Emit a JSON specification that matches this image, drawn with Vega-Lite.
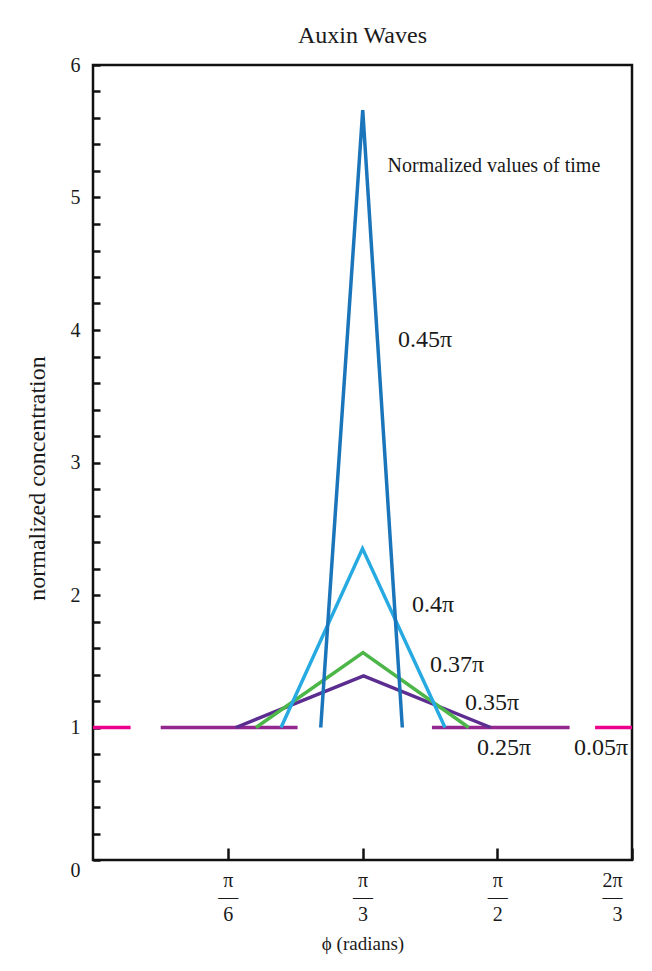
{
  "$schema": "https://vega.github.io/schema/vega-lite/v6.json",
  "width": 539,
  "height": 795,
  "autosize": {"type": "none"},
  "padding": {"left": 93, "top": 65, "right": 20, "bottom": 111},
  "background": "white",
  "title": {"text": "Auxin Waves", "font": "Liberation Serif", "fontSize": 24, "fontWeight": "normal", "color": "#1a1a1a", "anchor": "middle", "offset": 7},
  "config": {
    "view": {"stroke": "#111", "strokeWidth": 2.5},
    "font": "Liberation Serif"
  },
  "datasets": {
    "lines": [
      {"series": "0.05π", "seg": "p1", "x": 0, "y": 1},
      {"series": "0.05π", "seg": "p1", "x": 0.146, "y": 1},
      {"series": "0.05π", "seg": "p2", "x": 1.951, "y": 1},
      {"series": "0.05π", "seg": "p2", "x": 2.0944, "y": 1},
      {"series": "0.25π", "seg": "f1", "x": 0.263, "y": 1},
      {"series": "0.25π", "seg": "f1", "x": 0.795, "y": 1},
      {"series": "0.25π", "seg": "f2", "x": 1.317, "y": 1},
      {"series": "0.25π", "seg": "f2", "x": 1.852, "y": 1},
      {"series": "0.35π", "seg": "t", "x": 0.555, "y": 1},
      {"series": "0.35π", "seg": "t", "x": 1.0512, "y": 1.39},
      {"series": "0.35π", "seg": "t", "x": 1.5455, "y": 1},
      {"series": "0.37π", "seg": "t", "x": 0.6334, "y": 1},
      {"series": "0.37π", "seg": "t", "x": 1.0492, "y": 1.565},
      {"series": "0.37π", "seg": "t", "x": 1.46, "y": 1},
      {"series": "0.4π", "seg": "t", "x": 0.7306, "y": 1},
      {"series": "0.4π", "seg": "t", "x": 1.0473, "y": 2.35},
      {"series": "0.4π", "seg": "t", "x": 1.3679, "y": 1},
      {"series": "0.45π", "seg": "t", "x": 0.8849, "y": 1},
      {"series": "0.45π", "seg": "t", "x": 1.0481, "y": 5.66},
      {"series": "0.45π", "seg": "t", "x": 1.2019, "y": 1}
    ],
    "labels": [
      {"text": "Normalized values of time", "x": 1.558, "y": 5.238, "size": 20},
      {"text": "0.45π", "x": 1.29, "y": 3.925, "size": 24},
      {"text": "0.4π", "x": 1.321, "y": 1.925, "size": 24},
      {"text": "0.37π", "x": 1.4145, "y": 1.472, "size": 24},
      {"text": "0.35π", "x": 1.5505, "y": 1.185, "size": 24},
      {"text": "0.25π", "x": 1.597, "y": 0.845, "size": 24},
      {"text": "0.05π", "x": 1.974, "y": 0.845, "size": 24}
    ]
  },
  "layer": [
    {
      "data": {"name": "lines"},
      "mark": {"type": "line", "strokeWidth": 3.5, "clip": true},
      "encoding": {
        "x": {
          "field": "x", "type": "quantitative",
          "scale": {"domain": [0, 2.0944], "nice": false, "zero": false},
          "axis": {
            "values": [0.5236, 1.0472, 1.5708, 2.0944],
            "tickCount": 10,
            "labelExpr": "datum.value < 0.6 ? ['π','—','6'] : datum.value < 1.1 ? ['π','—','3'] : datum.value < 1.6 ? ['π','—','2'] : ['2π','—','3']",
            "labelFont": "Liberation Serif", "labelFontSize": 20, "labelColor": "#1a1a1a",
            "labelLineHeight": 17,
            "labelPadding": 22,
            "labelOverlap": false,
            "labelFlush": true,
            "labelFlushOffset": -10,
            "tickSize": -12, "tickWidth": 2.5, "tickColor": "#111",
            "domain": false, "grid": false,
            "title": "ϕ (radians)", "titleFont": "Liberation Serif", "titleFontSize": 19, "titleFontWeight": "normal", "titleColor": "#1a1a1a", "titlePadding": 10
          }
        },
        "y": {
          "field": "y", "type": "quantitative",
          "scale": {"domain": [0, 6], "nice": false},
          "axis": {
            "values": [0, 0.2, 0.4, 0.6, 0.8, 1, 1.2, 1.4, 1.6, 1.8, 2, 2.2, 2.4, 2.6, 2.8, 3, 3.2, 3.4, 3.6, 3.8, 4, 4.2, 4.4, 4.6, 4.8, 5, 5.2, 5.4, 5.6, 5.8, 6],
            "tickCount": 40,
            "labelExpr": "abs(datum.value - round(datum.value)) < 0.01 ? format(datum.value, 'd') : ''",
            "labelFont": "Liberation Serif", "labelFontSize": 20, "labelColor": "#1a1a1a",
            "labelPadding": 20,
            "labelOverlap": false,
            "labelOffset": {"condition": {"test": "datum.value < 0.1", "value": 10}, "value": 0},
            "tickSize": -7, "tickWidth": 2.5, "tickColor": "#111",
            "domain": false, "grid": false,
            "title": "normalized concentration", "titleFont": "Liberation Serif", "titleFontSize": 24, "titleFontWeight": "normal", "titleColor": "#1a1a1a", "titlePadding": 21,
            "titleY": 413
          }
        },
        "detail": {"field": "seg"},
        "color": {
          "field": "series", "type": "nominal", "legend": null,
          "scale": {
            "domain": ["0.05π", "0.25π", "0.35π", "0.37π", "0.4π", "0.45π"],
            "range": ["#ec008c", "#92278f", "#5c2d91", "#4cb648", "#27aae1", "#1b75bb"]
          }
        },
        "order": {"field": "x"}
      }
    },
    {
      "data": {"name": "labels"},
      "mark": {"type": "text", "font": "Liberation Serif", "color": "#1a1a1a", "baseline": "middle", "align": "center"},
      "encoding": {
        "x": {"field": "x", "type": "quantitative"},
        "y": {"field": "y", "type": "quantitative"},
        "text": {"field": "text"},
        "size": {"field": "size", "type": "quantitative", "scale": null}
      }
    }
  ]
}
